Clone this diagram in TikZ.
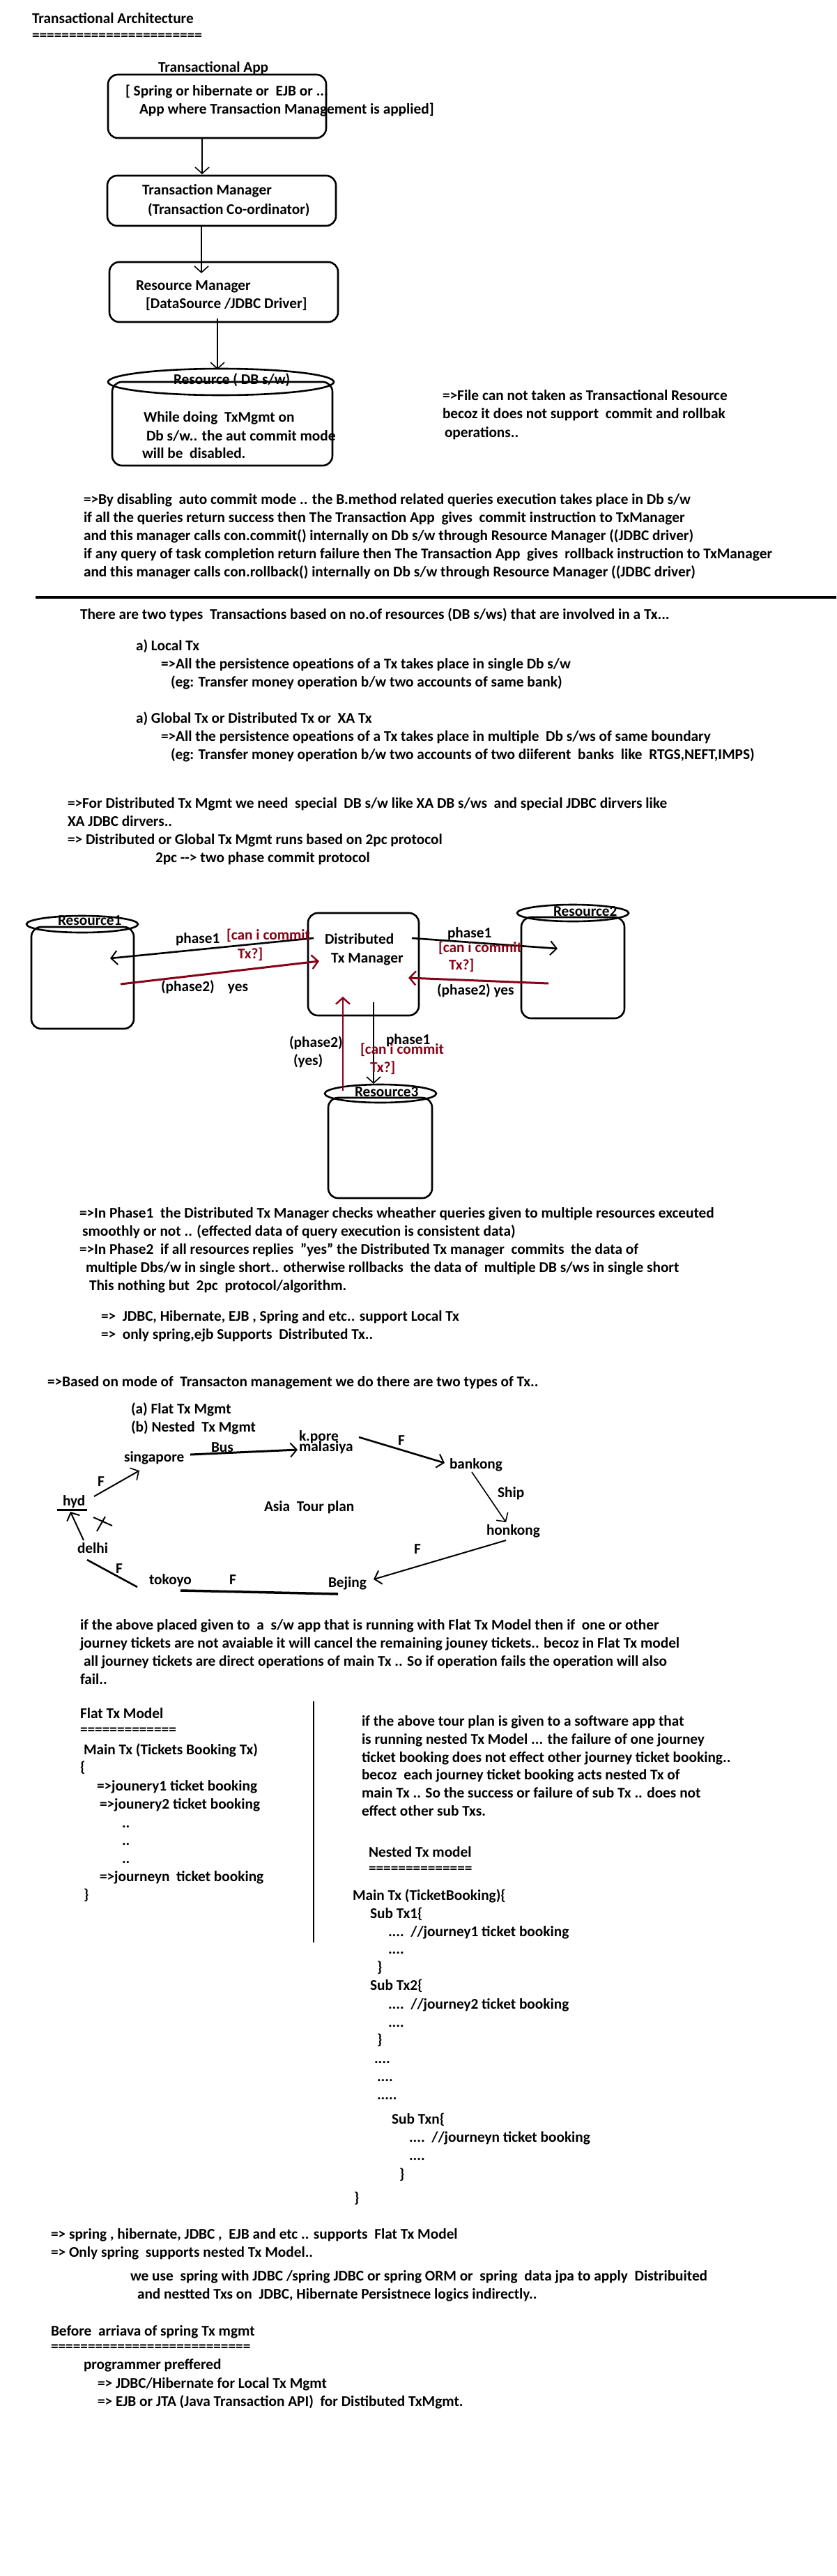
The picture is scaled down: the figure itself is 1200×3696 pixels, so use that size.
\documentclass[tikz,border=0pt]{standalone}
\usepackage{fontspec}
\setmainfont{Carlito}
\usetikzlibrary{arrows.meta,shapes.geometric}
\definecolor{dkred}{RGB}{136,0,21}
\tikzset{
  t/.style={anchor=base west, inner sep=0pt, outer sep=0pt, font=\bfseries\fontsize{21.3}{26}\selectfont},
  rt/.style={t, text=dkred},
  box/.style={draw, line width=2.6pt, rounded corners=14pt, inner sep=0pt, outer sep=0pt},
  cylt/.style={draw, ellipse, line width=2.6pt, inner sep=0pt, outer sep=0pt},
  arr/.style={line width=1.6pt, -{Straight Barb[length=9pt,width=20pt,line width=1.6pt]}},
  tarr/.style={line width=2.6pt, -{Straight Barb[length=9pt,width=20pt,line width=2pt]}},
  rarr/.style={draw=dkred, line width=3pt, -{Straight Barb[length=9pt,width=20pt,line width=2.4pt]}},
  ln/.style={line width=2.6pt},
}
\begin{document}
\begin{tikzpicture}[x=1pt,y=-1pt]
\useasboundingbox[fill=white] (0,0) rectangle (1200,3696);

% ---------- title
\node[t] (title) at (46,34) {Transactional Architecture};
\node[t] (titleul) at (46,58) {=======================};

% ---------- architecture boxes
\node[box, minimum width=313pt, minimum height=91pt] (app) at (311.5,152.5) {};
\node[t] (appT) at (227,104) {Transactional App};
\node[t] (app1) at (180,138) {[ Spring or hibernate or\ \ EJB or ...};
\node[t] (app2) at (200,164) {App where Transaction Management is applied]};

\node[box, minimum width=328pt, minimum height=72pt] (tm) at (318,288) {};
\node[t] (tm1) at (204,279) {Transaction Manager};
\node[t] (tm2) at (212,307) {(Transaction Co-ordinator)};

\node[box, minimum width=328pt, minimum height=86pt] (rm) at (321,419) {};
\node[t] (rm1) at (195,416) {Resource Manager};
\node[t] (rm2) at (209,442) {[DataSource /JDBC Driver]};

\node[box, minimum width=316pt, minimum height=120pt] (dbb) at (319,608) {};
\node[cylt, minimum width=324pt, minimum height=38pt] (dbt) at (317,548) {};
\node[t] (db0) at (249,551) {Resource ( DB s/w)};
\node[t] (db1) at (206,605) {While doing\ \ TxMgmt on};
\node[t] (db2) at (210,632) {Db s/w.. the aut commit mode};
\node[t] (db3) at (204,657) {will be\ \ disabled.};

\coordinate (a1s) at (290,198); \coordinate (a1e) at (290,250);
\coordinate (a2s) at (289,324); \coordinate (a2e) at (289,392);
\coordinate (a3s) at (312,457); \coordinate (a3e) at (312,530);
\draw[arr] (a1s) -- (a1e);
\draw[arr] (a2s) -- (a2e);
\draw[arr] (a3s) -- (a3e);

\node[t] (f1) at (635,574) {=>File can not taken as Transactional Resource};
\node[t] (f2) at (635,600) {becoz it does not support\ \ commit and rollbak};
\node[t] (f3) at (638,627) {operations..};

\node[t] (p1) at (120,723) {=>By disabling\ \ auto commit mode .. the B.method related queries execution takes place in Db s/w};
\node[t] (p2) at (120,749) {if all the queries return success then The Transaction App\ \ gives\ \ commit instruction to TxManager};
\node[t] (p3) at (120,775) {and this manager calls con.commit() internally on Db s/w through Resource Manager ((JDBC driver)};
\node[t] (p4) at (120,801) {if any query of task completion return failure then The Transaction App\ \ gives\ \ rollback instruction to TxManager};
\node[t] (p5) at (120,827) {and this manager calls con.rollback() internally on Db s/w through Resource Manager ((JDBC driver)};

\coordinate (rl) at (51,857); \coordinate (rr) at (1200,857);
\draw[line width=3.5pt] (rl) -- (rr);

% ---------- types of Tx
\node[t] (q0) at (115,888) {There are two types\ \ Transactions based on no.of resources (DB s/ws) that are involved in a Tx...};
\node[t] (q1) at (195,933) {a) Local Tx};
\node[t] (q2) at (231,959) {=>All the persistence opeations of a Tx takes place in single Db s/w};
\node[t] (q3) at (245,985) {(eg: Transfer money operation b/w two accounts of same bank)};
\node[t] (q4) at (195,1037) {a) Global Tx or Distributed Tx or\ \ XA Tx};
\node[t] (q5) at (231,1063) {=>All the persistence opeations of a Tx takes place in multiple\ \ Db s/ws of same boundary};
\node[t] (q6) at (245,1089) {(eg: Transfer money operation b/w two accounts of two diiferent\ \ banks\ \ like\ \ RTGS,NEFT,IMPS)};
\node[t] (q7) at (97,1159) {=>For Distributed Tx Mgmt we need\ \ special\ \ DB s/w like XA DB s/ws\ \ and special JDBC dirvers like};
\node[t] (q8) at (97,1185) {XA JDBC dirvers..};
\node[t] (q9) at (97,1211) {=> Distributed or Global Tx Mgmt runs based on 2pc protocol};
\node[t] (q10) at (223,1237) {2pc -{}-{}> two phase commit protocol};

% ---------- 2pc diagram
\node[box, minimum width=147pt, minimum height=146pt] (r1b) at (118.5,1403) {};
\node[cylt, minimum width=160pt, minimum height=24pt] (r1t) at (118,1326) {};
\node[t] (r1l) at (83,1327) {Resource1};

\node[box, minimum width=159pt, minimum height=147pt] (txm) at (521.5,1383.5) {};
\node[t] (txm1) at (466,1354) {Distributed};
\node[t] (txm2) at (475,1381) {Tx Manager};

\node[box, minimum width=148pt, minimum height=145pt] (r2b) at (822,1388.5) {};
\node[cylt, minimum width=160pt, minimum height=24pt] (r2t) at (822,1310) {};
\node[t] (r2l) at (794,1314) {Resource2};

\node[box, minimum width=149pt, minimum height=144pt] (r3b) at (545.5,1647) {};
\node[cylt, minimum width=160pt, minimum height=26pt] (r3t) at (546,1569) {};
\node[t] (r3l) at (509,1573) {Resource3};

\coordinate (b1s) at (450,1346); \coordinate (b1e) at (158,1375);
\coordinate (c1s) at (173,1412); \coordinate (c1e) at (458,1379);
\coordinate (b2s) at (591,1346); \coordinate (b2e) at (800,1361);
\coordinate (c2s) at (787,1411); \coordinate (c2e) at (586,1403);
\coordinate (b3s) at (536,1438); \coordinate (b3e) at (536,1555);
\coordinate (c3s) at (492,1565); \coordinate (c3e) at (492,1430);
\draw[tarr] (b1s) -- (b1e);
\draw[rarr] (c1s) -- (c1e);
\draw[tarr] (b2s) -- (b2e);
\draw[rarr] (c2s) -- (c2e);
\draw[arr] (b3s) -- (b3e);
\draw[rarr, line width=2pt] (c3s) -- (c3e);

\node[t] (l1) at (252,1353) {phase1};
\node[rt] (l2) at (325,1348) {[can i commit};
\node[rt] (l3) at (341,1375) {Tx?]};
\node[t] (l4) at (231,1422) {(phase2)\ \ \ \ yes};
\node[t] (l5) at (642,1345) {phase1};
\node[rt] (l6) at (629,1366) {[can i commit};
\node[rt] (l7) at (644,1391) {Tx?]};
\node[t] (l8) at (627,1427) {(phase2) yes};
\node[t] (l9) at (554,1498) {phase1};
\node[rt] (l10) at (517,1512) {[can i commit};
\node[rt] (l11) at (531,1538) {Tx?]};
\node[t] (l12) at (415,1502) {(phase2)};
\node[t] (l13) at (421,1528) {(yes)};

% ---------- 2pc text
\node[t] (s1) at (114,1747) {=>In Phase1\ \ the Distributed Tx Manager checks wheather queries given to multiple resources exceuted};
\node[t] (s2) at (118,1773) {smoothly or not .. (effected data of query execution is consistent data)};
\node[t] (s3) at (114,1799) {=>In Phase2\ \ if all resources replies\ \ "yes" the Distributed Tx manager\ \ commits\ \ the data of};
\node[t] (s4) at (123,1825) {multiple Dbs/w in single short.. otherwise rollbacks\ \ the data of\ \ multiple DB s/ws in single short};
\node[t] (s5) at (128,1851) {This nothing but\ \ 2pc\ \ protocol/algorithm.};
\node[t] (s6) at (145,1895) {=>\ \ JDBC, Hibernate, EJB , Spring and etc.. support Local Tx};
\node[t] (s7) at (145,1921) {=>\ \ only spring,ejb Supports\ \ Distributed Tx..};
\node[t] (s8) at (68,1989) {=>Based on mode of\ \ Transacton management we do there are two types of Tx..};
\node[t] (s9) at (188,2028) {(a) Flat Tx Mgmt};
\node[t] (s10) at (188,2054) {(b) Nested\ \ Tx Mgmt};

% ---------- tour plan
\node[t] (kp) at (429,2067) {k.pore};
\node[t] (mal) at (429,2082) {malasiya};
\node[t] (sing) at (178,2097) {singapore};
\node[t] (bus) at (303,2083) {Bus};
\node[t] (fa) at (571,2073) {F};
\node[t] (bank) at (645,2107) {bankong};
\node[t] (ship) at (714,2148) {Ship};
\node[t] (hon) at (698,2202) {honkong};
\node[t] (hyd) at (90,2160) {hyd};
\node[t] (fb) at (140,2132) {F};
\node[t] (asia) at (379,2168) {Asia\ \ Tour plan};
\node[t] (delhi) at (111,2228) {delhi};
\node[t] (fc) at (166,2257) {F};
\node[t] (tok) at (214,2273) {tokoyo};
\node[t] (fd) at (329,2273) {F};
\node[t] (bej) at (471,2277) {Bejing};
\node[t] (fe) at (594,2229) {F};

\coordinate (t1s) at (273,2087); \coordinate (t1e) at (427,2080);
\coordinate (t2s) at (515,2062); \coordinate (t2e) at (638,2099);
\coordinate (t3s) at (677,2112); \coordinate (t3e) at (726,2184);
\coordinate (t4s) at (726,2210); \coordinate (t4e) at (536,2266);
\coordinate (t5s) at (259,2282); \coordinate (t5e) at (485,2287);
\coordinate (t6s) at (197,2277); \coordinate (t6e) at (125,2238);
\coordinate (t7s) at (120,2210); \coordinate (t7e) at (101,2169);
\coordinate (t8s) at (135,2147); \coordinate (t8e) at (200,2110);
\coordinate (hb1) at (82,2166); \coordinate (hb2) at (125,2166);
\coordinate (x1a) at (134,2177); \coordinate (x1b) at (161,2189);
\coordinate (x2a) at (139,2197); \coordinate (x2b) at (151,2176);
\draw[tarr, line width=3pt] (t1s) -- (t1e);
\draw[tarr] (t2s) -- (t2e);
\draw[arr] (t3s) -- (t3e);
\draw[tarr, line width=2pt] (t4s) -- (t4e);
\draw[line width=3.5pt] (t5s) -- (t5e);
\draw[ln] (t6s) -- (t6e);
\draw[tarr, line width=2pt] (t7s) -- (t7e);
\draw[arr, line width=2pt] (t8s) -- (t8e);
\draw[line width=3pt] (hb1) -- (hb2);
\draw[line width=2pt] (x1a) -- (x1b);
\draw[line width=2pt] (x2a) -- (x2b);

% ---------- flat explanation
\node[t] (u1) at (115,2338) {if the above placed given to\ \ a\ \ s/w app that is running with Flat Tx Model then if\ \ one or other};
\node[t] (u2) at (115,2364) {journey tickets are not avaiable it will cancel the remaining jouney tickets.. becoz in Flat Tx model};
\node[t] (u3) at (120,2390) {all journey tickets are direct operations of main Tx .. So if operation fails the operation will also};
\node[t] (u4) at (115,2416) {fail..};

\coordinate (vt) at (450,2441); \coordinate (vb) at (450,2787);
\draw[line width=2.2pt] (vt) -- (vb);

% ---------- flat model (left)
\node[t] (fl1) at (115,2465) {Flat Tx Model};
\node[t] (fl2) at (115,2488) {=============};
\node[t] (fl3) at (120,2517) {Main Tx (Tickets Booking Tx)};
\node[t] (fl4) at (115,2542) {\{};
\node[t] (fl5) at (139,2569) {=>jounery1 ticket booking};
\node[t] (fl6) at (143,2595) {=>jounery2 ticket booking};
\node[t] (fl7) at (175,2622) {..};
\node[t] (fl8) at (175,2647) {..};
\node[t] (fl9) at (175,2673) {..};
\node[t] (fl10) at (143,2699) {=>journeyn\ \ ticket booking};
\node[t] (fl11) at (120,2725) {\}};

% ---------- nested model (right)
\node[t] (n1) at (519,2476) {if the above tour plan is given to a software app that};
\node[t] (n2) at (519,2502) {is running nested Tx Model ... the failure of one journey};
\node[t] (n3) at (519,2528) {ticket booking does not effect other journey ticket booking..};
\node[t] (n4) at (519,2553) {becoz\ \ each journey ticket booking acts nested Tx of};
\node[t] (n5) at (519,2579) {main Tx .. So the success or failure of sub Tx .. does not};
\node[t] (n6) at (519,2605) {effect other sub Txs.};
\node[t] (n7) at (529,2664) {Nested Tx model};
\node[t] (n8) at (529,2687) {==============};
\node[t] (n9) at (506,2726) {Main Tx (TicketBooking)\{};
\node[t] (n10) at (531,2752) {Sub Tx1\{};
\node[t] (n11) at (557,2778) {....\ \ //journey1 ticket booking};
\node[t] (n12) at (557,2803) {....};
\node[t] (n13) at (541,2829) {\}};
\node[t] (n14) at (531,2855) {Sub Tx2\{};
\node[t] (n15) at (557,2882) {....\ \ //journey2 ticket booking};
\node[t] (n16) at (557,2908) {....};
\node[t] (n17) at (541,2933) {\}};
\node[t] (n18) at (537,2960) {....};
\node[t] (n19) at (541,2986) {....};
\node[t] (n20) at (541,3012) {.....};
\node[t] (n21) at (562,3047) {Sub Txn\{};
\node[t] (n22) at (587,3073) {....\ \ //journeyn ticket booking};
\node[t] (n23) at (587,3099) {....};
\node[t] (n24) at (573,3126) {\}};
\node[t] (n25) at (508,3160) {\}};

% ---------- closing notes
\node[t] (w1) at (73,3212) {=> spring , hibernate, JDBC ,\ \ EJB and etc .. supports\ \ Flat Tx Model};
\node[t] (w2) at (73,3238) {=> Only spring\ \ supports nested Tx Model..};
\node[t] (w3) at (187,3272) {we use\ \ spring with JDBC /spring JDBC or spring ORM or\ \ spring\ \ data jpa to apply\ \ Distribuited};
\node[t] (w4) at (197,3298) {and nestted Txs on\ \ JDBC, Hibernate Persistnece logics indirectly..};
\node[t] (w5) at (73,3351) {Before\ \ arriava of spring Tx mgmt};
\node[t] (w6) at (73,3373) {===========================};
\node[t] (w7) at (120,3399) {programmer preffered};
\node[t] (w8) at (140,3426) {=> JDBC/Hibernate for Local Tx Mgmt};
\node[t] (w9) at (140,3452) {=> EJB or JTA (Java Transaction API)\ \ for Distibuted TxMgmt.};
\end{tikzpicture}
\end{document}
